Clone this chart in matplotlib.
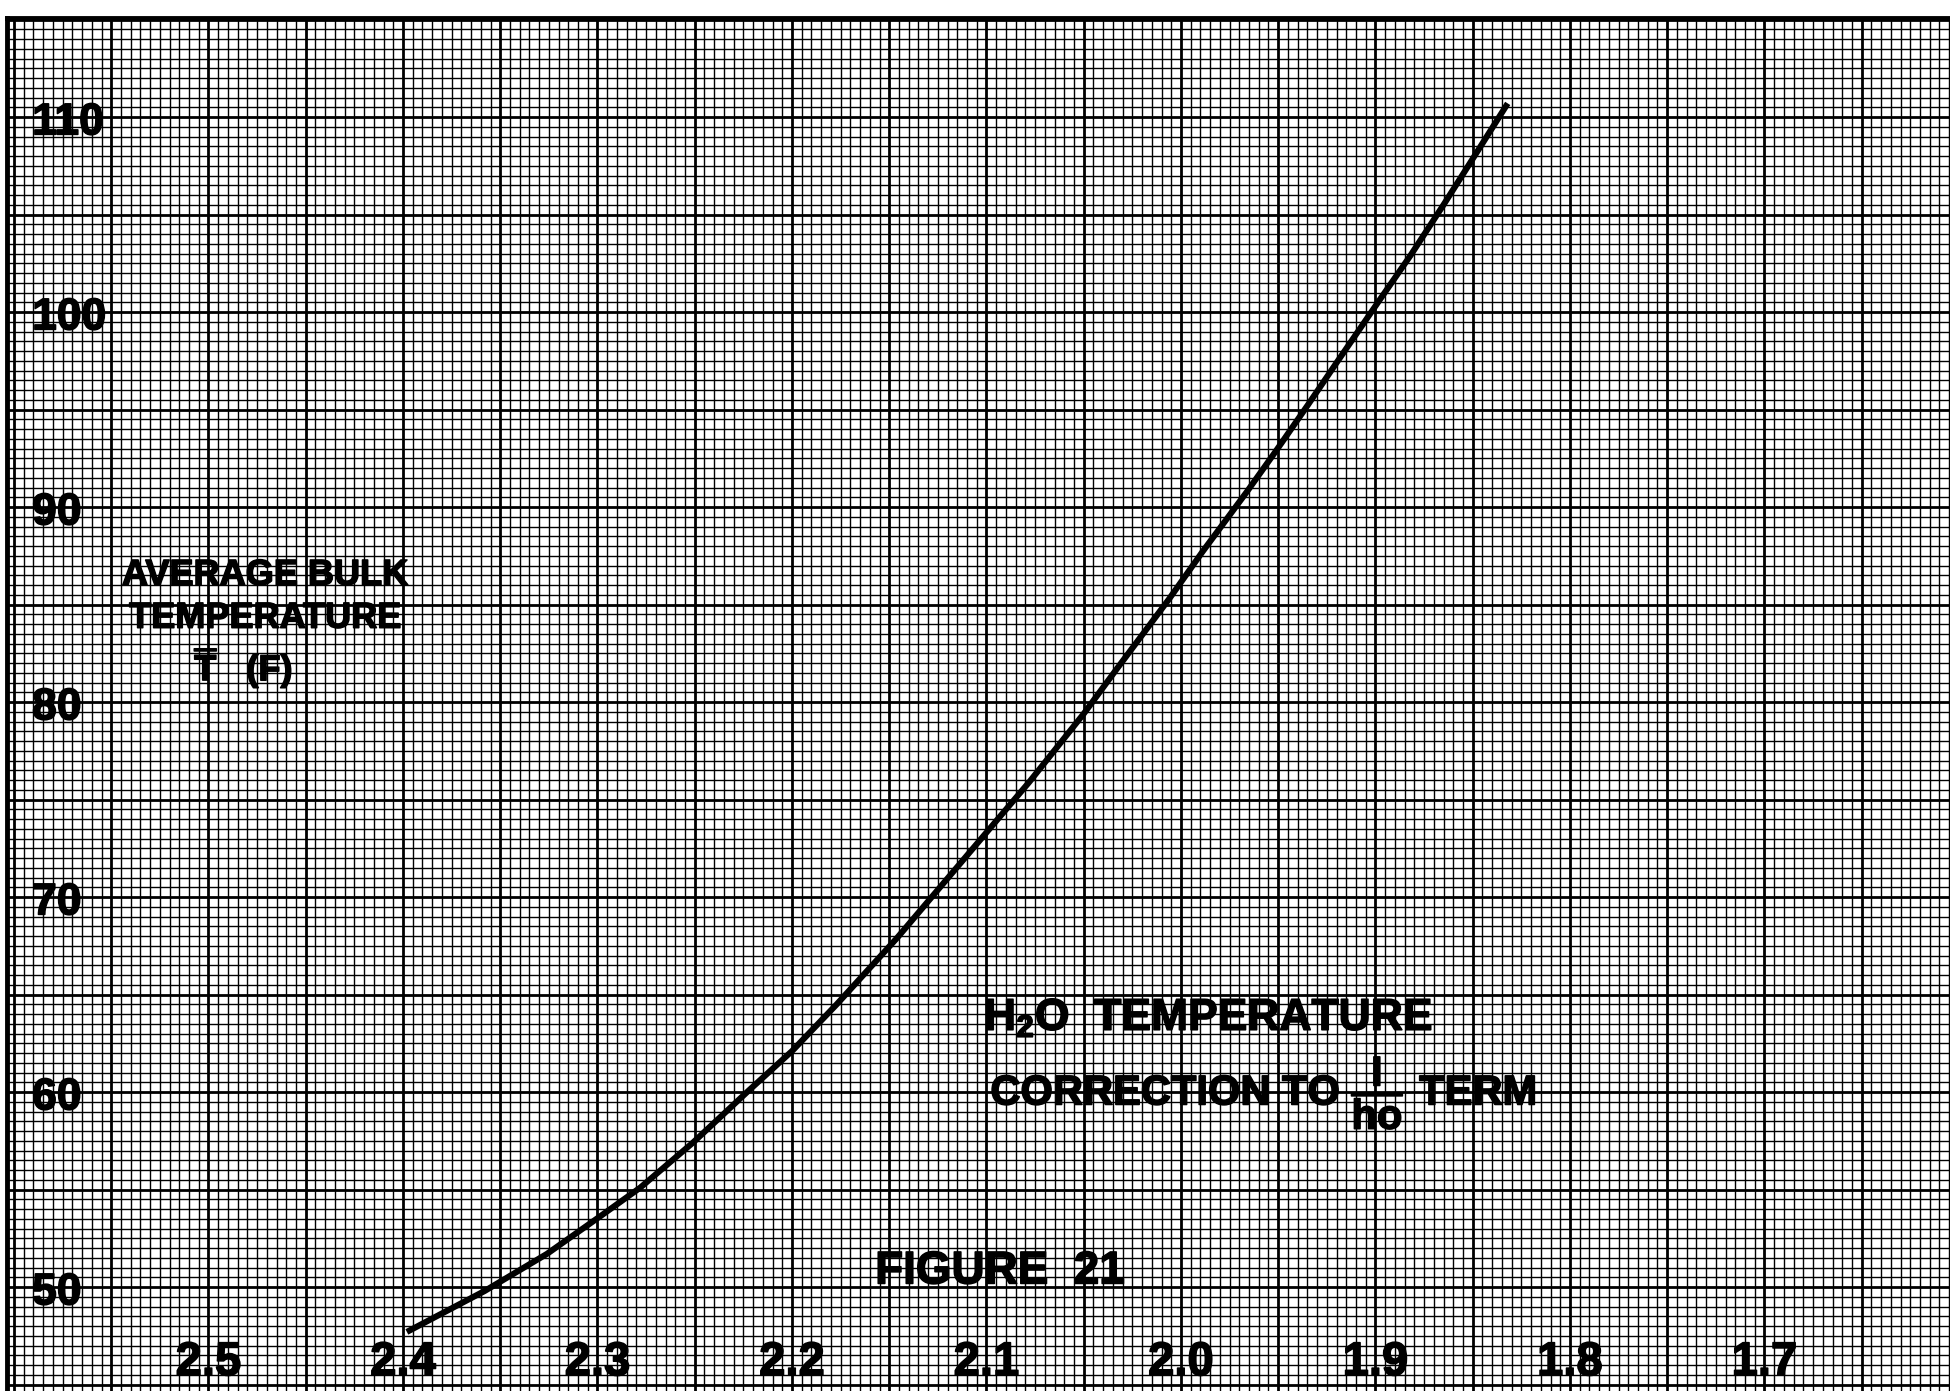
# figure_21.py
# H2O temperature correction to the 1/ho term, redrawn on graph paper

import matplotlib
matplotlib.use('Agg')
import matplotlib.pyplot as plt
import matplotlib.patheffects as pe
from matplotlib.ticker import MultipleLocator

# curve: 1/ho correction term vs average bulk temperature (F)
inv_ho = [2.398, 2.358, 2.326, 2.299, 2.278, 2.251, 2.222, 2.200, 2.177,
          2.146, 2.095, 2.078, 2.050, 2.033, 2.006, 1.989, 1.966, 1.951,
          1.935, 1.920, 1.898, 1.882, 1.865, 1.851, 1.832]
temp_F = [47.7, 49.8, 51.7, 53.6, 55.1, 57.4, 60.1, 62.1, 64.5,
          67.9, 73.9, 75.9, 79.4, 81.7, 85.3, 87.7, 90.8, 92.9,
          95.2, 97.4, 100.6, 102.9, 105.5, 107.7, 110.7]

x_ticks = [2.5, 2.4, 2.3, 2.2, 2.1, 2.0, 1.9, 1.8, 1.7]
x_tick_text = ['2.5', '2.4', '2.3', '2.2', '2.1', '2.0', '1.9', '1.8', '1.7']
y_ticks = [110, 100, 90, 80, 70, 60, 50]

plt.rcParams['font.family'] = ['Liberation Sans', 'DejaVu Sans']
plt.rcParams['font.weight'] = 'bold'
plt.rcParams['mathtext.fontset'] = 'custom'
plt.rcParams['mathtext.rm'] = 'Liberation Sans:bold'
plt.rcParams['mathtext.it'] = 'Liberation Sans:bold'
plt.rcParams['mathtext.bf'] = 'Liberation Sans:bold'

# ink effect so the lettering reads as heavy pen strokes over the grid
ink = [pe.withStroke(linewidth=1.1, foreground='black')]

W, H = 1950, 1391
fig = plt.figure(figsize=(W / 100, H / 100), dpi=100)
fig.patch.set_facecolor('white')
ax = fig.add_axes([7 / W, 0, 1943 / W, 1373 / H])

# paper limits (x runs from high to low values)
ax.set_xlim(2.6036, 1.6046)
ax.set_ylim(44.67, 115.08)

# graph paper: 10 small squares per heavy square
ax.xaxis.set_major_locator(MultipleLocator(0.05))
ax.xaxis.set_minor_locator(MultipleLocator(0.005))
ax.yaxis.set_major_locator(MultipleLocator(5))
ax.yaxis.set_minor_locator(MultipleLocator(0.5))
ax.grid(which='minor', color='black', linewidth=1.0)
ax.grid(which='major', color='black', linewidth=2.0)
ax.tick_params(which='both', length=0, labelbottom=False, labelleft=False)
ax.set_axisbelow(True)
for side in ['left', 'top']:
    ax.spines[side].set_linewidth(3.5)
for side in ['right', 'bottom']:
    ax.spines[side].set_visible(False)

# the curve
ax.plot(inv_ho, temp_F, color='black', linewidth=4.4,
        solid_capstyle='butt', solid_joinstyle='round')

# hand lettered scale numbers, written inside the paper
for v, s in zip(x_ticks, x_tick_text):
    ax.text(v, 46.1, s, fontsize=34, ha='center', va='center', path_effects=ink)
for v in y_ticks:
    ax.text(2.5907, v - 0.3, str(v), fontsize=32, ha='left', va='center',
            path_effects=ink)

# axis label
ax.text(2.471, 86.5, 'AVERAGE BULK', fontsize=26, ha='center', va='center',
        path_effects=ink)
ax.text(2.471, 84.3, 'TEMPERATURE', fontsize=26, ha='center', va='center',
        path_effects=ink)
ax.text(2.482, 81.8, r'$\overline{\mathrm{T}}$   (F)', fontsize=26,
        ha='center', va='center', path_effects=ink)

# title block
ax.text(2.1013, 63.8, r'H$_\mathrm{2}$O  TEMPERATURE', fontsize=32,
        ha='left', va='center', path_effects=ink)
ax.text(2.098, 60.0, r'CORRECTION TO $\dfrac{\mathrm{I}}{\mathrm{ho}}$ TERM',
        fontsize=30, ha='left', va='center', path_effects=ink)

ax.text(2.093, 50.8, 'FIGURE  21', fontsize=33, ha='center', va='center',
        path_effects=ink)

plt.savefig('out.png', dpi=100, facecolor='white')
